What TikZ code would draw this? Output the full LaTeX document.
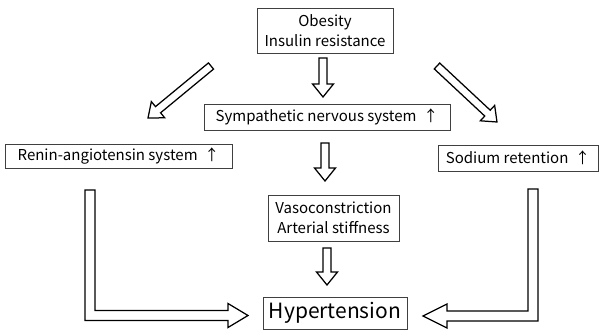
\documentclass[tikz,border=0pt]{standalone}
\usepackage{fontspec}
\setmainfont{Noto Sans CJK KR}
\usepackage{tikz}
\usetikzlibrary{calc}

\definecolor{BoxLine}{RGB}{64, 64, 64}

% hollow block arrow from #1 to #2
\newcommand{\hollowarrow}[2]{%
  \draw[arrowline] let \p1=(#1), \p2=(#2),
      \n1={atan2(\y2-\y1,\x2-\x1)}, \n2={veclen(\x2-\x1,\y2-\y1)} in
    [shift={(\p1)}, rotate=\n1]
    (0,-4) -- (\n2-13,-4) -- (\n2-13,-10.5) -- (\n2,0)
    -- (\n2-13,10.5) -- (\n2-13,4) -- (0,4) -- cycle;}

\begin{document}
\begin{tikzpicture}[x=1pt, y=1pt,
  box/.style={draw=BoxLine, line width=0.8pt, inner sep=2pt, align=center,
              font=\fontsize{15}{19.5}\selectfont},
  arrowline/.style={draw=black, line width=1.25pt, line join=miter, fill=white}]
\useasboundingbox (0,0) rectangle (599,332);

\node[box, minimum width=136, minimum height=45] (obesity) at (325,301.5)
  {Obesity\\Insulin resistance};
\node[box, minimum width=246, minimum height=26] (symp) at (327,215)
  {Sympathetic nervous system \ ↑};
\node[box, minimum width=227, minimum height=24] (renin) at (118.5,176)
  {Renin-angiotensin system \ ↑};
\node[box, minimum width=160, minimum height=26] (sodium) at (518,174)
  {Sodium retention \ ↑};
\node[box, minimum width=131, minimum height=46] (vaso) at (333.5,114)
  {Vasoconstriction\\Arterial stiffness};
\node[box, minimum width=144, minimum height=32,
      font=\fontsize{21}{25}\selectfont] (hyper) at (335,19) {Hypertension};

% straight arrows
\coordinate (ob out) at (323,274);   \coordinate (symp in) at (323,235);
\coordinate (symp out) at (325,189); \coordinate (vaso in) at (325,151);
\coordinate (vaso out) at (327,84);  \coordinate (hyper in) at (327,47);
\coordinate (ob left) at (211,266);  \coordinate (renin in) at (148,214);
\coordinate (ob right) at (437,266); \coordinate (sodium in) at (497,210);

\hollowarrow{ob out}{symp in}
\hollowarrow{symp out}{vaso in}
\hollowarrow{vaso out}{hyper in}
\hollowarrow{ob left}{renin in}
\hollowarrow{ob right}{sodium in}

% elbow arrows
\coordinate (renin out) at (90,142);
\coordinate (renin bend) at (90,16.5);
\coordinate (renin tip) at (248,16.5);
\draw[arrowline] ($(renin out)+(-5,0)$) -- ($(renin out)+(5,0)$)
  -- ($(renin bend)+(5,5)$) -- ($(renin tip)+(-20,5)$) -- ($(renin tip)+(-20,12)$)
  -- (renin tip) -- ($(renin tip)+(-20,-12)$) -- ($(renin tip)+(-20,-5)$)
  -- ($(renin bend)+(-5,-5)$) -- cycle;

\coordinate (sodium out) at (533,143);
\coordinate (sodium bend) at (533,16);
\coordinate (sodium tip) at (423,16);
\draw[arrowline] ($(sodium out)+(5,0)$) -- ($(sodium out)+(-5,0)$)
  -- ($(sodium bend)+(-5,5)$) -- ($(sodium tip)+(24,5)$) -- ($(sodium tip)+(24,12)$)
  -- (sodium tip) -- ($(sodium tip)+(24,-12)$) -- ($(sodium tip)+(24,-5)$)
  -- ($(sodium bend)+(5,-5)$) -- cycle;
\end{tikzpicture}
\end{document}
